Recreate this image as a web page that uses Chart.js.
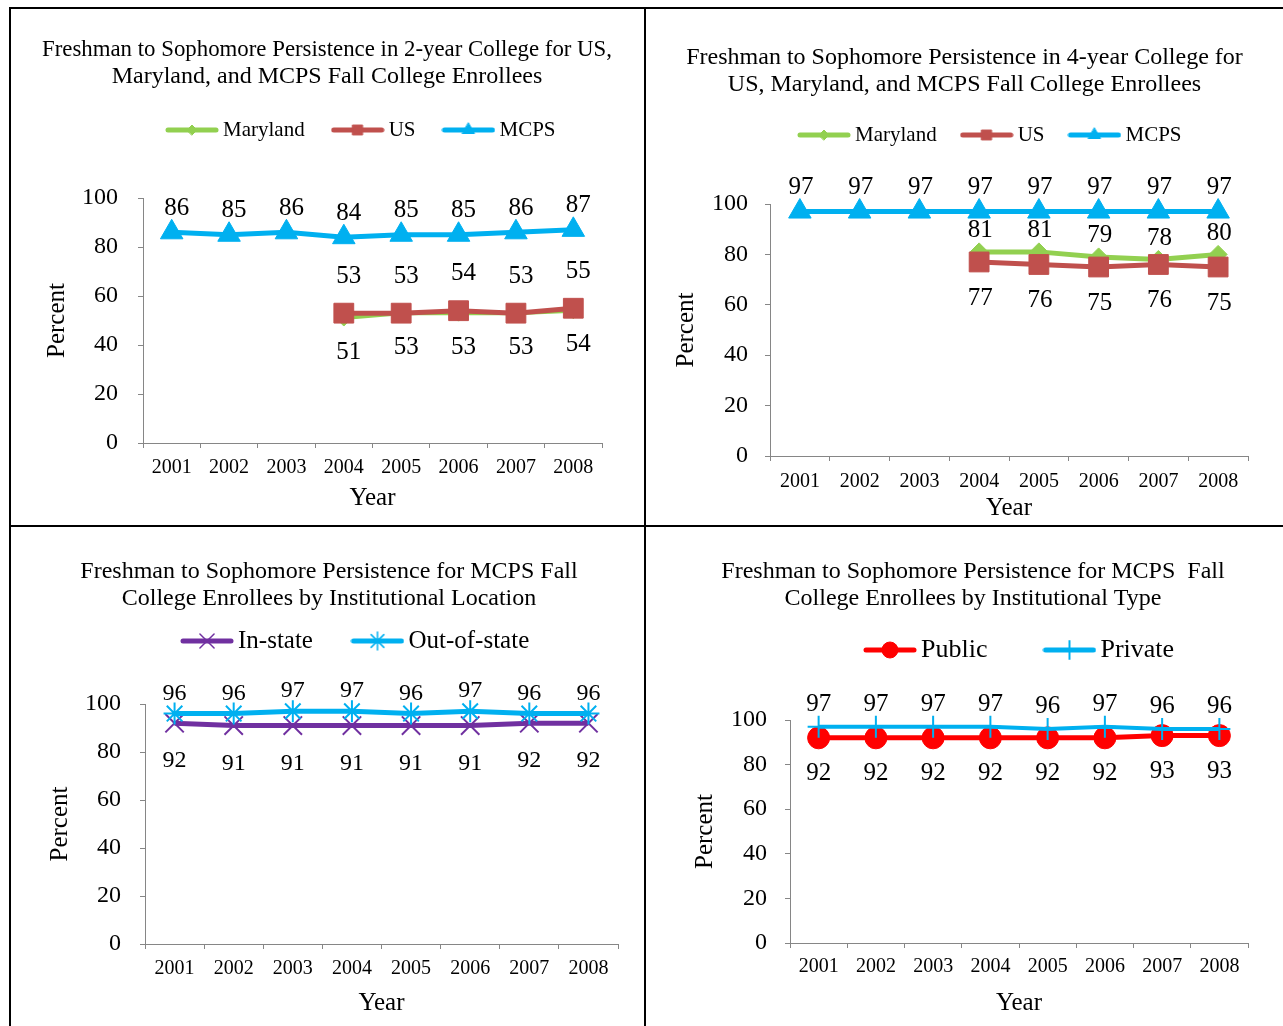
<!DOCTYPE html>
<html><head><meta charset="utf-8">
<script src="https://cdn.jsdelivr.net/npm/chart.js@4.4.0/dist/chart.umd.min.js"></script>
<style>
html,body{margin:0;padding:0;background:#fff;}
body{width:1283px;height:1026px;overflow:hidden;position:relative;}
.rule{position:absolute;background:#000;}
canvas{position:absolute;display:block;}
</style></head><body>
<div class="rule" style="left:9px;top:7px;width:1274px;height:2px"></div>
<div class="rule" style="left:9px;top:7px;width:2px;height:1019px"></div>
<div class="rule" style="left:644px;top:7px;width:2px;height:1019px"></div>
<div class="rule" style="left:9px;top:525px;width:1274px;height:2px"></div>
<canvas id="c1" width="631" height="515" style="left:12px;top:10px"></canvas>
<canvas id="c2" width="636" height="515" style="left:647px;top:10px"></canvas>
<canvas id="c3" width="631" height="497" style="left:12px;top:529px"></canvas>
<canvas id="c4" width="636" height="497" style="left:647px;top:529px"></canvas>
<script>
// ---- data ----
const years = ['2001','2002','2003','2004','2005','2006','2007','2008'];
const yTicks = [0, 20, 40, 60, 80, 100];
// chart 1: 2-year college
const twoYearMaryland = [null, null, null, 51, 53, 53, 53, 54];
const twoYearUS       = [null, null, null, 53, 53, 54, 53, 55];
const twoYearMCPS     = [86, 85, 86, 84, 85, 85, 86, 87];
// chart 2: 4-year college
const fourYearMaryland = [null, null, null, 81, 81, 79, 78, 80];
const fourYearUS       = [null, null, null, 77, 76, 75, 76, 75];
const fourYearMCPS     = [97, 97, 97, 97, 97, 97, 97, 97];
// chart 3: institutional location
const inState    = [92, 91, 91, 91, 91, 91, 92, 92];
const outOfState = [96, 96, 97, 97, 96, 97, 96, 96];
// chart 4: institutional type
const publicInst  = [92, 92, 92, 92, 92, 92, 93, 93];
const privateInst = [97, 97, 97, 97, 96, 97, 96, 96];

const FONT = "'Liberation Serif', 'Times New Roman', serif";
Chart.defaults.font.family = FONT;
Chart.defaults.color = '#000';

const GREEN = '#92D050', RED = '#C0504D', BLUE = '#00B0F0', PURPLE = '#7030A0', BRIGHTRED = '#FF0000';

function legendIcon(color, style, radius, borderW) {
  const c = document.createElement('canvas');
  c.width = 54; c.height = 24;
  const g = c.getContext('2d');
  g.strokeStyle = color; g.lineWidth = 5; g.lineCap = 'round';
  g.beginPath(); g.moveTo(3, 12); g.lineTo(51, 12); g.stroke();
  g.fillStyle = color; g.strokeStyle = color; g.lineWidth = borderW;
  Chart.helpers.drawPoint(g, {pointStyle: style, radius: radius, borderWidth: borderW, rotation: 0}, 27, 12);
  return c;
}

const valueLabels = {
  id: 'valueLabels',
  afterDatasetsDraw(chart) {
    const ctx = chart.ctx;
    chart.data.datasets.forEach((ds, i) => {
      const lab = ds.valueLabel;
      if (!lab) return;
      const meta = chart.getDatasetMeta(i);
      ctx.save();
      ctx.font = lab.size + 'px ' + FONT;
      ctx.fillStyle = '#000';
      ctx.textAlign = 'center';
      ctx.textBaseline = 'middle';
      meta.data.forEach((pt, j) => {
        const v = ds.data[j];
        if (v === null || v === undefined) return;
        ctx.fillText(String(v), pt.x + lab.dx, pt.y + lab.dy);
      });
      ctx.restore();
    });
  }
};

const blockPlace = {
  id: 'blockPlace',
  beforeLayout(chart, args, o) {
    const cfg = {height: o.height, x: o.x, y: o.y, pad: o.pad, box: o.box, img: o.img, fs: o.fs, titleX: o.titleX};
    const lg = chart.legend;
    if (lg && !lg.__wrapped) {
      lg.__wrapped = true;
      const fit = lg.fit.bind(lg);
      lg.fit = function () { fit(); this.height = cfg.height; };
      const draw = lg.draw.bind(lg);
      lg.draw = function () {
        const c = this.ctx;
        const dx = cfg.x - (this.left + cfg.pad + cfg.box / 2 - cfg.img / 2);
        const dy = cfg.y - (this.top + cfg.pad + cfg.fs / 2);
        c.save(); c.translate(dx, dy); draw(); c.restore();
      };
    }
    const tb = chart.titleBlock;
    if (tb && !tb.__wrapped) {
      tb.__wrapped = true;
      const tdraw = tb.draw.bind(tb);
      tb.draw = function () {
        const c = this.ctx;
        const dx = cfg.titleX - (this.left + this.right) / 2;
        c.save(); c.translate(dx, 0); tdraw(); c.restore();
      };
    }
  }
};

function lineDs(label, data, color, style, radius, borderW, lineW, icon, lab, order) {
  return {
    label: label, data: data, borderColor: color, backgroundColor: color,
    borderWidth: lineW, pointStyle: style, pointRadius: radius,
    pointBorderWidth: borderW, pointBorderColor: color, pointBackgroundColor: color,
    pointHoverRadius: radius, tension: 0, clip: false, spanGaps: false,
    order: order, legendIcon: icon, valueLabel: lab
  };
}

function makeChart(id, title, datasets, L) {
  return new Chart(document.getElementById(id), {
    type: 'line',
    data: {labels: years, datasets: datasets},
    plugins: [valueLabels, blockPlace],
    options: {
      responsive: false, animation: false, devicePixelRatio: 1,
      layout: {padding: {left: 20, right: L.padR, top: 0, bottom: 0}},
      plugins: {
        tooltip: {enabled: false},
        title: {display: true, text: title, color: '#000',
                font: {size: L.titleFs || 24, lineHeight: 27 / (L.titleFs || 24), weight: 'normal'},
                padding: {top: L.titleTop, bottom: 0}},
        legend: {
          display: true, position: 'top', align: 'start',
          labels: {
            usePointStyle: true, pointStyleWidth: L.box, padding: L.legPad,
            font: {size: L.legFs}, color: '#000',
            generateLabels: (ch) => ch.data.datasets.map((ds, i) => ({
              text: ds.label, pointStyle: ds.legendIcon, datasetIndex: i,
              hidden: false, fillStyle: ds.borderColor, strokeStyle: ds.borderColor,
              lineWidth: 0, fontColor: '#000'
            }))
          }
        },
        blockPlace: {height: L.legH, x: L.legX, y: L.legY, pad: L.legPad, box: L.box, img: 54, fs: L.legFs, titleX: L.titleX}
      },
      scales: {
        x: {
          type: 'category', offset: true,
          afterFit: (s) => { s.height = L.xH; },
          grid: {display: true, drawOnChartArea: false, drawTicks: true, tickLength: 5, color: '#868686', offset: true},
          border: {display: true, color: '#868686', width: 1},
          ticks: {font: {size: 20}, color: '#000', padding: L.xTickPad, maxRotation: 0, autoSkip: false},
          title: {display: true, text: 'Year', color: '#000', font: {size: 25, lineHeight: 1.2}, padding: {top: 0, bottom: L.yearPad}}
        },
        y: {
          min: 0, max: 100,
          afterBuildTicks: (s) => { s.ticks = yTicks.map(v => ({value: v})); },
          afterFit: (s) => { s.width = L.yW; },
          grid: {display: true, drawOnChartArea: false, drawTicks: true, tickLength: 5, color: '#868686'},
          border: {display: true, color: '#868686', width: 1},
          ticks: {font: {size: 24}, color: '#000', padding: L.yTickPad},
          title: {display: true, text: 'Percent', color: '#000', font: {size: 25, lineHeight: 1.2}, padding: {top: L.pctPad, bottom: 0}}
        }
      }
    }
  });
}

// Chart 1
makeChart('c1',
  ['Freshman to Sophomore Persistence in 2-year College for US,', 'Maryland, and MCPS Fall College Enrollees'],
  [
    lineDs('Maryland', twoYearMaryland, GREEN, 'rectRot', 8, 1, 4, legendIcon(GREEN, 'rectRot', 5, 1), {dx: 5, dy: 34, size: 25}, 3),
    lineDs('US', twoYearUS, RED, 'rect', 14, 1, 5, legendIcon(RED, 'rect', 7, 1), {dx: 5, dy: -37, size: 25}, 2),
    lineDs('MCPS', twoYearMCPS, BLUE, 'triangle', 13, 1, 5, legendIcon(BLUE, 'triangle', 7, 1), {dx: 5, dy: -24, size: 25}, 1)
  ],
  {padR: 41, titleTop: 26.5, titleX: 315, legH: 107.5, legX: 153, legY: 120, legFs: 21, box: 41, legPad: 32.5,
   yW: 111, yTickPad: 20, pctPad: 10, xH: 82, xTickPad: 8, yearPad: 12});

// Chart 2
makeChart('c2',
  ['Freshman to Sophomore Persistence in 4-year College for', 'US, Maryland, and MCPS Fall College Enrollees'],
  [
    lineDs('Maryland', fourYearMaryland, GREEN, 'rectRot', 9, 1, 5, legendIcon(GREEN, 'rectRot', 5, 1), {dx: 1, dy: -21, size: 25}, 3),
    lineDs('US', fourYearUS, RED, 'rect', 14, 1, 5, legendIcon(RED, 'rect', 7, 1), {dx: 1, dy: 36, size: 25}, 2),
    lineDs('MCPS', fourYearMCPS, BLUE, 'triangle', 13, 1, 5, legendIcon(BLUE, 'triangle', 7, 1), {dx: 1, dy: -24, size: 25}, 1)
  ],
  {padR: 35, titleTop: 34.5, titleX: 317.5, legH: 105.5, legX: 150, legY: 125, legFs: 21, box: 41, legPad: 29.5,
   yW: 103, yTickPad: 17, pctPad: 4, xH: 69, xTickPad: 9, yearPad: 2});

// Chart 3
makeChart('c3',
  ['Freshman to Sophomore Persistence for MCPS Fall', 'College Enrollees by Institutional Location'],
  [
    lineDs('In-state', inState, PURPLE, 'crossRot', 13, 2, 5, legendIcon(PURPLE, 'crossRot', 10, 1.5), {dx: 0, dy: 38, size: 24}, 2),
    lineDs('Out-of-state', outOfState, BLUE, 'star', 11, 2, 5, legendIcon(BLUE, 'star', 9, 1.5), {dx: 0, dy: -20, size: 24}, 1)
  ],
  {padR: 25, titleTop: 29.5, titleX: 317, legH: 91.5, legX: 168, legY: 112, legFs: 25, box: 37, legPad: 46,
   yW: 113, yTickPad: 19, pctPad: 13, xH: 82, xTickPad: 8, yearPad: 8});

// Chart 4
makeChart('c4',
  ['Freshman to Sophomore Persistence for MCPS  Fall', 'College Enrollees by Institutional Type'],
  [
    lineDs('Public', publicInst, BRIGHTRED, 'circle', 11, 1, 5, legendIcon(BRIGHTRED, 'circle', 8, 1), {dx: 0, dy: 36, size: 25}, 2),
    lineDs('Private', privateInst, BLUE, 'cross', 11, 2, 4, legendIcon(BLUE, 'cross', 9, 2), {dx: 0, dy: -22, size: 25}, 1)
  ],
  {padR: 35, titleTop: 29.5, titleX: 326, legH: 107.5, legX: 216, legY: 121, legFs: 26, box: 36, legPad: 64,
   yW: 123, yTickPad: 18, pctPad: 23, xH: 83, xTickPad: 7, yearPad: 8});
</script>
</body></html>
